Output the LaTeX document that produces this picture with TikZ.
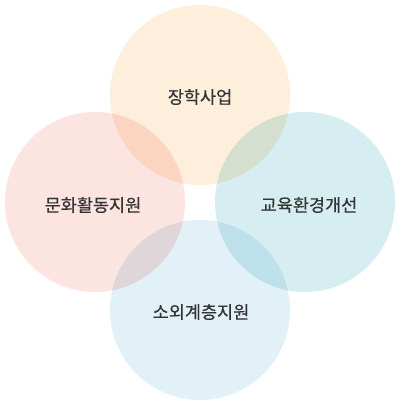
\documentclass[tikz,border=0pt]{standalone}
\usepackage{fontspec}
\newfontfamily\kr[FakeBold=0.4]{Noto Sans CJK KR}
\definecolor{ctop}{HTML}{FEEFDC}
\definecolor{cleft}{HTML}{FCE4E0}
\definecolor{cright}{HTML}{D6EEF1}
\definecolor{cbot}{HTML}{E2F0F8}
\definecolor{txt}{HTML}{333333}
\tikzset{
  lbl/.style={font=\kr\fontsize{17.5pt}{20pt}\selectfont, text=txt}
}
\begin{document}
\begin{tikzpicture}[x=1pt,y=-1pt]
\useasboundingbox[fill=white] (0,0) rectangle (401,406);
\begin{scope}[blend group=multiply]
\fill[ctop] (200,95) circle (90);
\fill[cleft] (95,202) circle (90);
\fill[cright] (305,202) circle (90);
\fill[cbot] (200,310) circle (90);
\end{scope}
\node[lbl] (t) at (200,97) {장학사업};
\node[lbl] (l) at (93,205) {문화활동지원};
\node[lbl] (r) at (309,205) {교육환경개선};
\node[lbl] (b) at (201,312) {소외계층지원};
\end{tikzpicture}
\end{document}
